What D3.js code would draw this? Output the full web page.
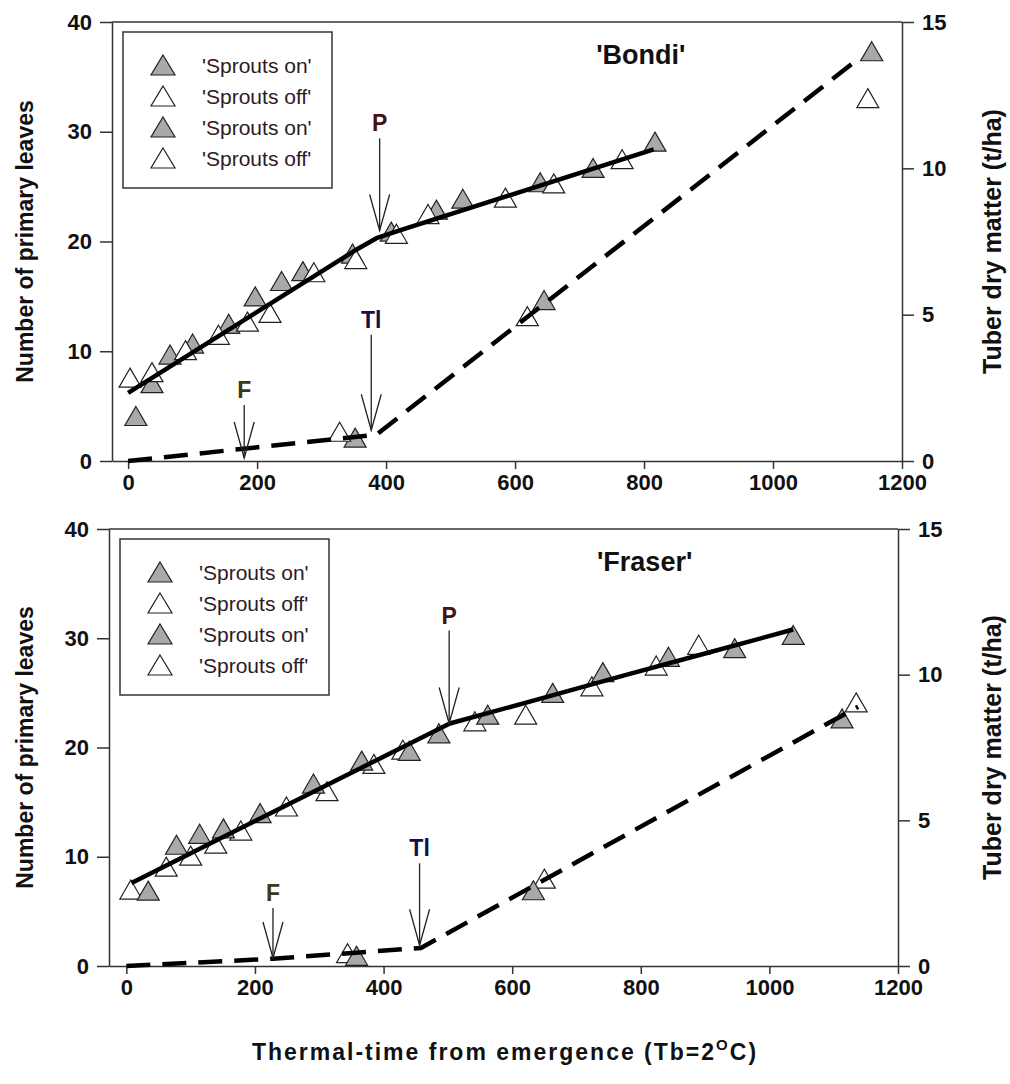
<!DOCTYPE html>
<html><head><meta charset="utf-8">
<script src="https://cdn.jsdelivr.net/npm/d3@7"></script>
<style>
html,body{margin:0;padding:0;background:#fff;}
svg{display:block;}
</style></head>
<body>
<svg id="chart" width="1010" height="1084"></svg>
<script>
// ---------- data ----------
const xTicks = [0, 200, 400, 600, 800, 1000, 1200];
const yLeftTicks = [0, 10, 20, 30, 40];
const yRightTicks = [0, 5, 10, 15];
const legendLabels = ["'Sprouts on'", "'Sprouts off'", "'Sprouts on'", "'Sprouts off'"];
const legendFilled = [true, false, true, false];

// Bondi – leaves (left axis)
const bondiLeavesOn = [[12,4.1],[37,7.1],[65,9.7],[100,10.7],[156,12.5],[197,15.0],[238,16.4],[271,17.3],[348,18.9],[408,20.9],[478,22.9],[519,23.9],[639,25.4],[721,26.7],[817,29.1]];
const bondiLeavesOff = [[3,7.6],[37,8.1],[89,10.1],[140,11.5],[185,12.7],[220,13.5],[288,17.2],[353,18.4],[416,20.7],[465,22.5],[585,24.0],[660,25.3],[766,27.5]];
// Bondi – tuber dry matter (right axis)
const bondiTdmOn = [[352,0.8],[645,5.5],[1153,14.0]];
const bondiTdmOff = [[328,1.0],[619,4.95],[1147,12.4]];
const bondiLeafFit = [[0,6.2],[355,19.3],[385,20.3],[420,21.0],[815,28.4]];
const bondiTdmFit = [[0,0],[385,0.9],[1130,13.7]];
const bondiArrows = [
  {label:"P", x:390, tip:21.0, top:29.4, color:"#4a1010"},
  {label:"Tl", x:377, tip:2.8, top:11.5, color:"#10104a"},
  {label:"F", x:180, tip:0.27, top:5.1, color:"#3a3a12"}
];

// Fraser – leaves (left axis)
const fraserLeavesOn = [[34,6.9],[78,11.1],[114,12.1],[151,12.6],[208,14.0],[291,16.7],[366,18.8],[440,19.7],[486,21.3],[562,23.0],[663,25.0],[741,26.9],[843,28.3],[946,29.1],[1037,30.3]];
const fraserLeavesOff = [[7,7.0],[62,9.1],[100,10.1],[139,11.2],[178,12.4],[249,14.6],[312,16.0],[385,18.5],[430,19.8],[542,22.4],[621,23.0],[724,25.6],[824,27.5],[890,29.4]];
// Fraser – tuber dry matter (right axis)
const fraserTdmOn = [[358,0.35],[633,2.6],[1113,8.5]];
const fraserTdmOff = [[344,0.44],[650,3.0],[1135,9.05]];
const fraserLeafFit = [[8,7.6],[503,22.2],[640,24.4],[780,26.7],[900,28.6],[1037,30.8]];
const fraserTdmFit = [[0,0],[228,0.25],[458,0.62],[1138,8.9]];
const fraserArrows = [
  {label:"F", x:228, tip:0.73, top:5.3, color:"#3a3a12"},
  {label:"Tl", x:456, tip:1.9, top:9.4, color:"#10104a"},
  {label:"P", x:502, tip:22.2, top:30.7, color:"#4a1010"}
];

const panels = [
  {title:"'Bondi'", titleX:795, box:{l:112, r:902, t:22, b:461}, xMin:-25,
   on:bondiLeavesOn, off:bondiLeavesOff, tOn:bondiTdmOn, tOff:bondiTdmOff,
   fit:bondiLeafFit, tfit:bondiTdmFit, arrows:bondiArrows, openOnTop:true},
  {title:"'Fraser'", titleX:806, box:{l:109, r:898, t:529, b:966}, xMin:-27,
   on:fraserLeavesOn, off:fraserLeavesOff, tOn:fraserTdmOn, tOff:fraserTdmOff,
   fit:fraserLeafFit, tfit:fraserTdmFit, arrows:fraserArrows, openOnTop:false}
];

// ---------- drawing ----------
const svg = d3.select("#chart");
const FONT = "'Liberation Sans', Arial, Helvetica, sans-serif";
const GRAY = "#a9a9a9";
const TW = 22, TH = 19;
const triPath = `M0,${-TH/2}L${TW/2},${TH/2}L${-TW/2},${TH/2}Z`;
const fmt = d3.format("d");

panels.forEach(p => {
  const B = p.box;
  const x = d3.scaleLinear().domain([p.xMin, 1200]).range([B.l, B.r]);
  const yL = d3.scaleLinear().domain([0, 40]).range([B.b, B.t]);
  const yR = d3.scaleLinear().domain([0, 15]).range([B.b, B.t]);
  const g = svg.append("g");

  // top frame
  g.append("line").attr("x1", B.l).attr("x2", B.r).attr("y1", B.t).attr("y2", B.t)
    .attr("stroke", "#333").attr("stroke-width", 1.5);

  const styleAxis = sel => {
    sel.select(".domain").attr("stroke", "#333").attr("stroke-width", 1.5);
    sel.selectAll(".tick line").attr("stroke", "#333").attr("stroke-width", 1.5);
    sel.selectAll(".tick text").attr("fill", "#111").style("font-family", FONT)
      .style("font-size", "22px").style("font-weight", "bold");
  };

  g.append("g").attr("transform", `translate(${B.l},0)`)
    .call(d3.axisLeft(yL).tickValues(yLeftTicks).tickFormat(fmt).tickSize(12).tickSizeOuter(0).tickPadding(8))
    .call(styleAxis);
  g.append("g").attr("transform", `translate(${B.r},0)`)
    .call(d3.axisRight(yR).tickValues(yRightTicks).tickFormat(fmt).tickSize(12).tickSizeOuter(0).tickPadding(8))
    .call(styleAxis);
  g.append("g").attr("transform", `translate(0,${B.b})`)
    .call(d3.axisBottom(x).tickValues(xTicks).tickFormat(fmt).tickSize(8).tickSizeOuter(0).tickPadding(5))
    .call(styleAxis);

  // triangles
  const drawTri = (data, yS, filled) => {
    g.append("g").selectAll("path").data(data).join("path")
      .attr("d", triPath)
      .attr("transform", d => `translate(${x(d[0])},${yS(d[1])})`)
      .attr("fill", filled ? GRAY : "#fff")
      .attr("stroke", "#222").attr("stroke-width", 1.2);
  };
  if (p.openOnTop) {
    drawTri(p.on, yL, true); drawTri(p.off, yL, false);
    drawTri(p.tOn, yR, true); drawTri(p.tOff, yR, false);
  } else {
    drawTri(p.off, yL, false); drawTri(p.on, yL, true);
    drawTri(p.tOff, yR, false); drawTri(p.tOn, yR, true);
  }

  // fitted lines
  g.append("path").datum(p.fit)
    .attr("d", d3.line().x(d => x(d[0])).y(d => yL(d[1])))
    .attr("fill", "none").attr("stroke", "#000").attr("stroke-width", 4.5)
    .attr("stroke-linejoin", "round");
  g.append("path").datum(p.tfit)
    .attr("d", d3.line().x(d => x(d[0])).y(d => yR(d[1])))
    .attr("fill", "none").attr("stroke", "#000").attr("stroke-width", 4.5)
    .attr("stroke-dasharray", "24,12");

  // arrows
  p.arrows.forEach(a => {
    const ax = x(a.x), tip = yL(a.tip), top = yL(a.top);
    const ag = g.append("g").attr("stroke", "#222").attr("stroke-width", 1.3).attr("fill", "none");
    ag.append("line").attr("x1", ax).attr("x2", ax).attr("y1", top).attr("y2", tip);
    ag.append("path").attr("d", `M${ax-10},${tip-36}L${ax},${tip}L${ax+10},${tip-36}`);
    g.append("text").attr("x", ax).attr("y", top - 7).attr("text-anchor", "middle")
      .attr("fill", a.color).style("font-family", FONT).style("font-size", "23px")
      .style("font-weight", "bold").text(a.label);
  });

  // panel title
  g.append("text").attr("x", x(p.titleX)).attr("y", B.t + 42).attr("text-anchor", "middle")
    .style("font-family", FONT).style("font-size", "27px").style("font-weight", "bold")
    .attr("fill", "#111").text(p.title);

  // legend
  const lg = g.append("g").attr("transform", `translate(${B.l + 11},${B.t + 10})`);
  lg.append("rect").attr("width", 209).attr("height", 156)
    .attr("fill", "#fff").attr("stroke", "#333").attr("stroke-width", 1.5);
  legendLabels.forEach((lab, i) => {
    const cy = 33 + i * 31;
    lg.append("path").attr("d", "M0,-10L12,10L-12,10Z")
      .attr("transform", `translate(40,${cy})`)
      .attr("fill", legendFilled[i] ? GRAY : "#fff").attr("stroke", "#222").attr("stroke-width", 1.2);
    lg.append("text").attr("x", 79).attr("y", cy + 8)
      .style("font-family", FONT).style("font-size", "21px").attr("fill", "#2e1a26").text(lab);
  });

  // axis titles
  const cy = (B.t + B.b) / 2;
  g.append("text").attr("transform", `translate(33,${cy}) rotate(-90)`).attr("text-anchor", "middle")
    .style("font-family", FONT).style("font-size", "23px").style("font-weight", "bold")
    .attr("fill", "#111").text("Number of primary leaves");
  g.append("text").attr("transform", `translate(1001,${cy}) rotate(-90)`).attr("text-anchor", "middle")
    .style("font-family", FONT).style("font-size", "25px").style("font-weight", "bold")
    .attr("fill", "#111").text("Tuber dry matter (t/ha)");
});

// x-axis title
const xt = svg.append("text").attr("x", 505).attr("y", 1060).attr("text-anchor", "middle")
  .style("font-family", FONT).style("font-size", "23px").style("font-weight", "bold")
  .style("letter-spacing", "2px").attr("fill", "#111");
xt.append("tspan").text("Thermal-time from emergence (Tb=2");
xt.append("tspan").attr("dy", -10).style("font-size", "15px").text("O");
xt.append("tspan").attr("dy", 10).text("C)");
</script>
</body></html>
